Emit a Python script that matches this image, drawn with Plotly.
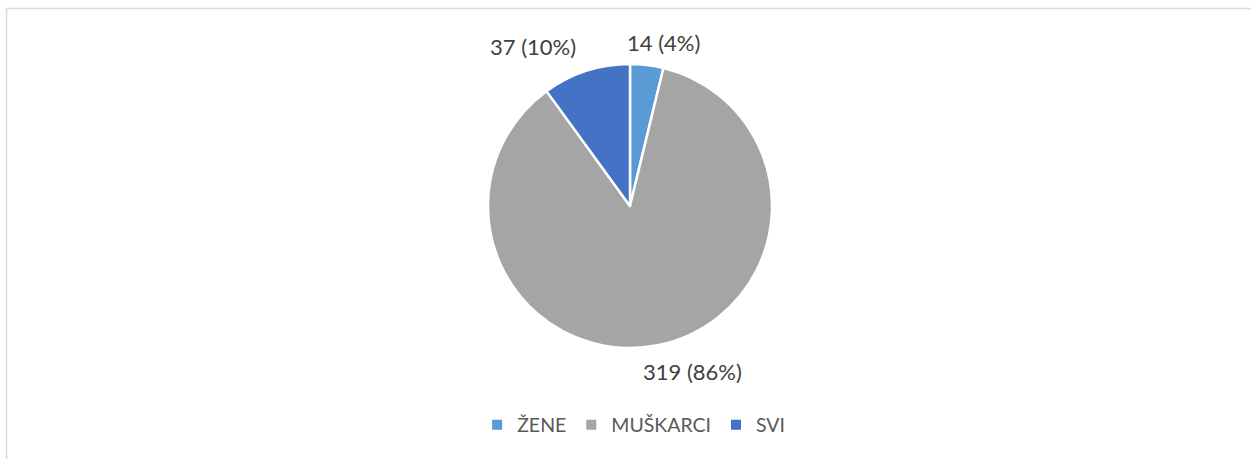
import math
import plotly.graph_objects as go

categories = ["ŽENE", "MUŠKARCI", "SVI"]
values = [14, 319, 37]
colors = ["#5B9BD5", "#A5A5A5", "#4472C4"]

W, H = 1251, 459
cx, cy, r = 630, 206, 142

total = sum(values)
fig = go.Figure()
fig.add_trace(go.Pie(
    labels=categories, values=values, sort=False, direction="clockwise", rotation=0,
    marker=dict(colors=colors, line=dict(color="white", width=2.5)),
    textinfo="none", hoverinfo="label+value+percent",
    domain=dict(x=[(cx - r) / W, (cx + r) / W], y=[1 - (cy + r) / H, 1 - (cy - r) / H]),
))

# data labels placed outside each slice, derived from slice mid-angles (plus small nudges)
label_gap = 25
nudges = [(14, 2), (30, 2), (-45, -1)]
cum = 0
for cat, v, (nx, ny) in zip(categories, values, nudges):
    mid = (cum + v / 2) / total * 2 * math.pi
    cum += v
    px = cx + (r + label_gap) * math.sin(mid) + nx
    py = cy - (r + label_gap) * math.cos(mid) + ny
    fig.add_annotation(
        x=px / W, y=1 - py / H, xref="paper", yref="paper", showarrow=False,
        text=f"{v} ({round(v / total * 100)}%)",
        font=dict(family="Lato, Noto Sans, sans-serif", size=22, color="#404040"),
        xanchor="center", yanchor="middle",
    )

fig.add_shape(type="rect", xref="paper", yref="paper",
              x0=6.5 / W, x1=1.05, y0=-0.05, y1=1 - 8.5 / H,
              line=dict(color="#D9D9D9", width=1.5))

fig.update_layout(
    width=W, height=H, margin=dict(l=0, r=0, t=0, b=0),
    paper_bgcolor="white", plot_bgcolor="white",
    showlegend=True,
    legend=dict(orientation="h", x=0.5065, xanchor="center", y=1 - 425 / H, yanchor="middle",
                font=dict(family="Lato, Noto Sans, sans-serif", size=19.5, color="#595959"),
                itemsizing="constant", traceorder="normal", itemwidth=30),
)

fig.write_html("out.html", config={"displayModeBar": False},
               post_script="document.body.style.margin='0';document.body.style.overflow='hidden';")
